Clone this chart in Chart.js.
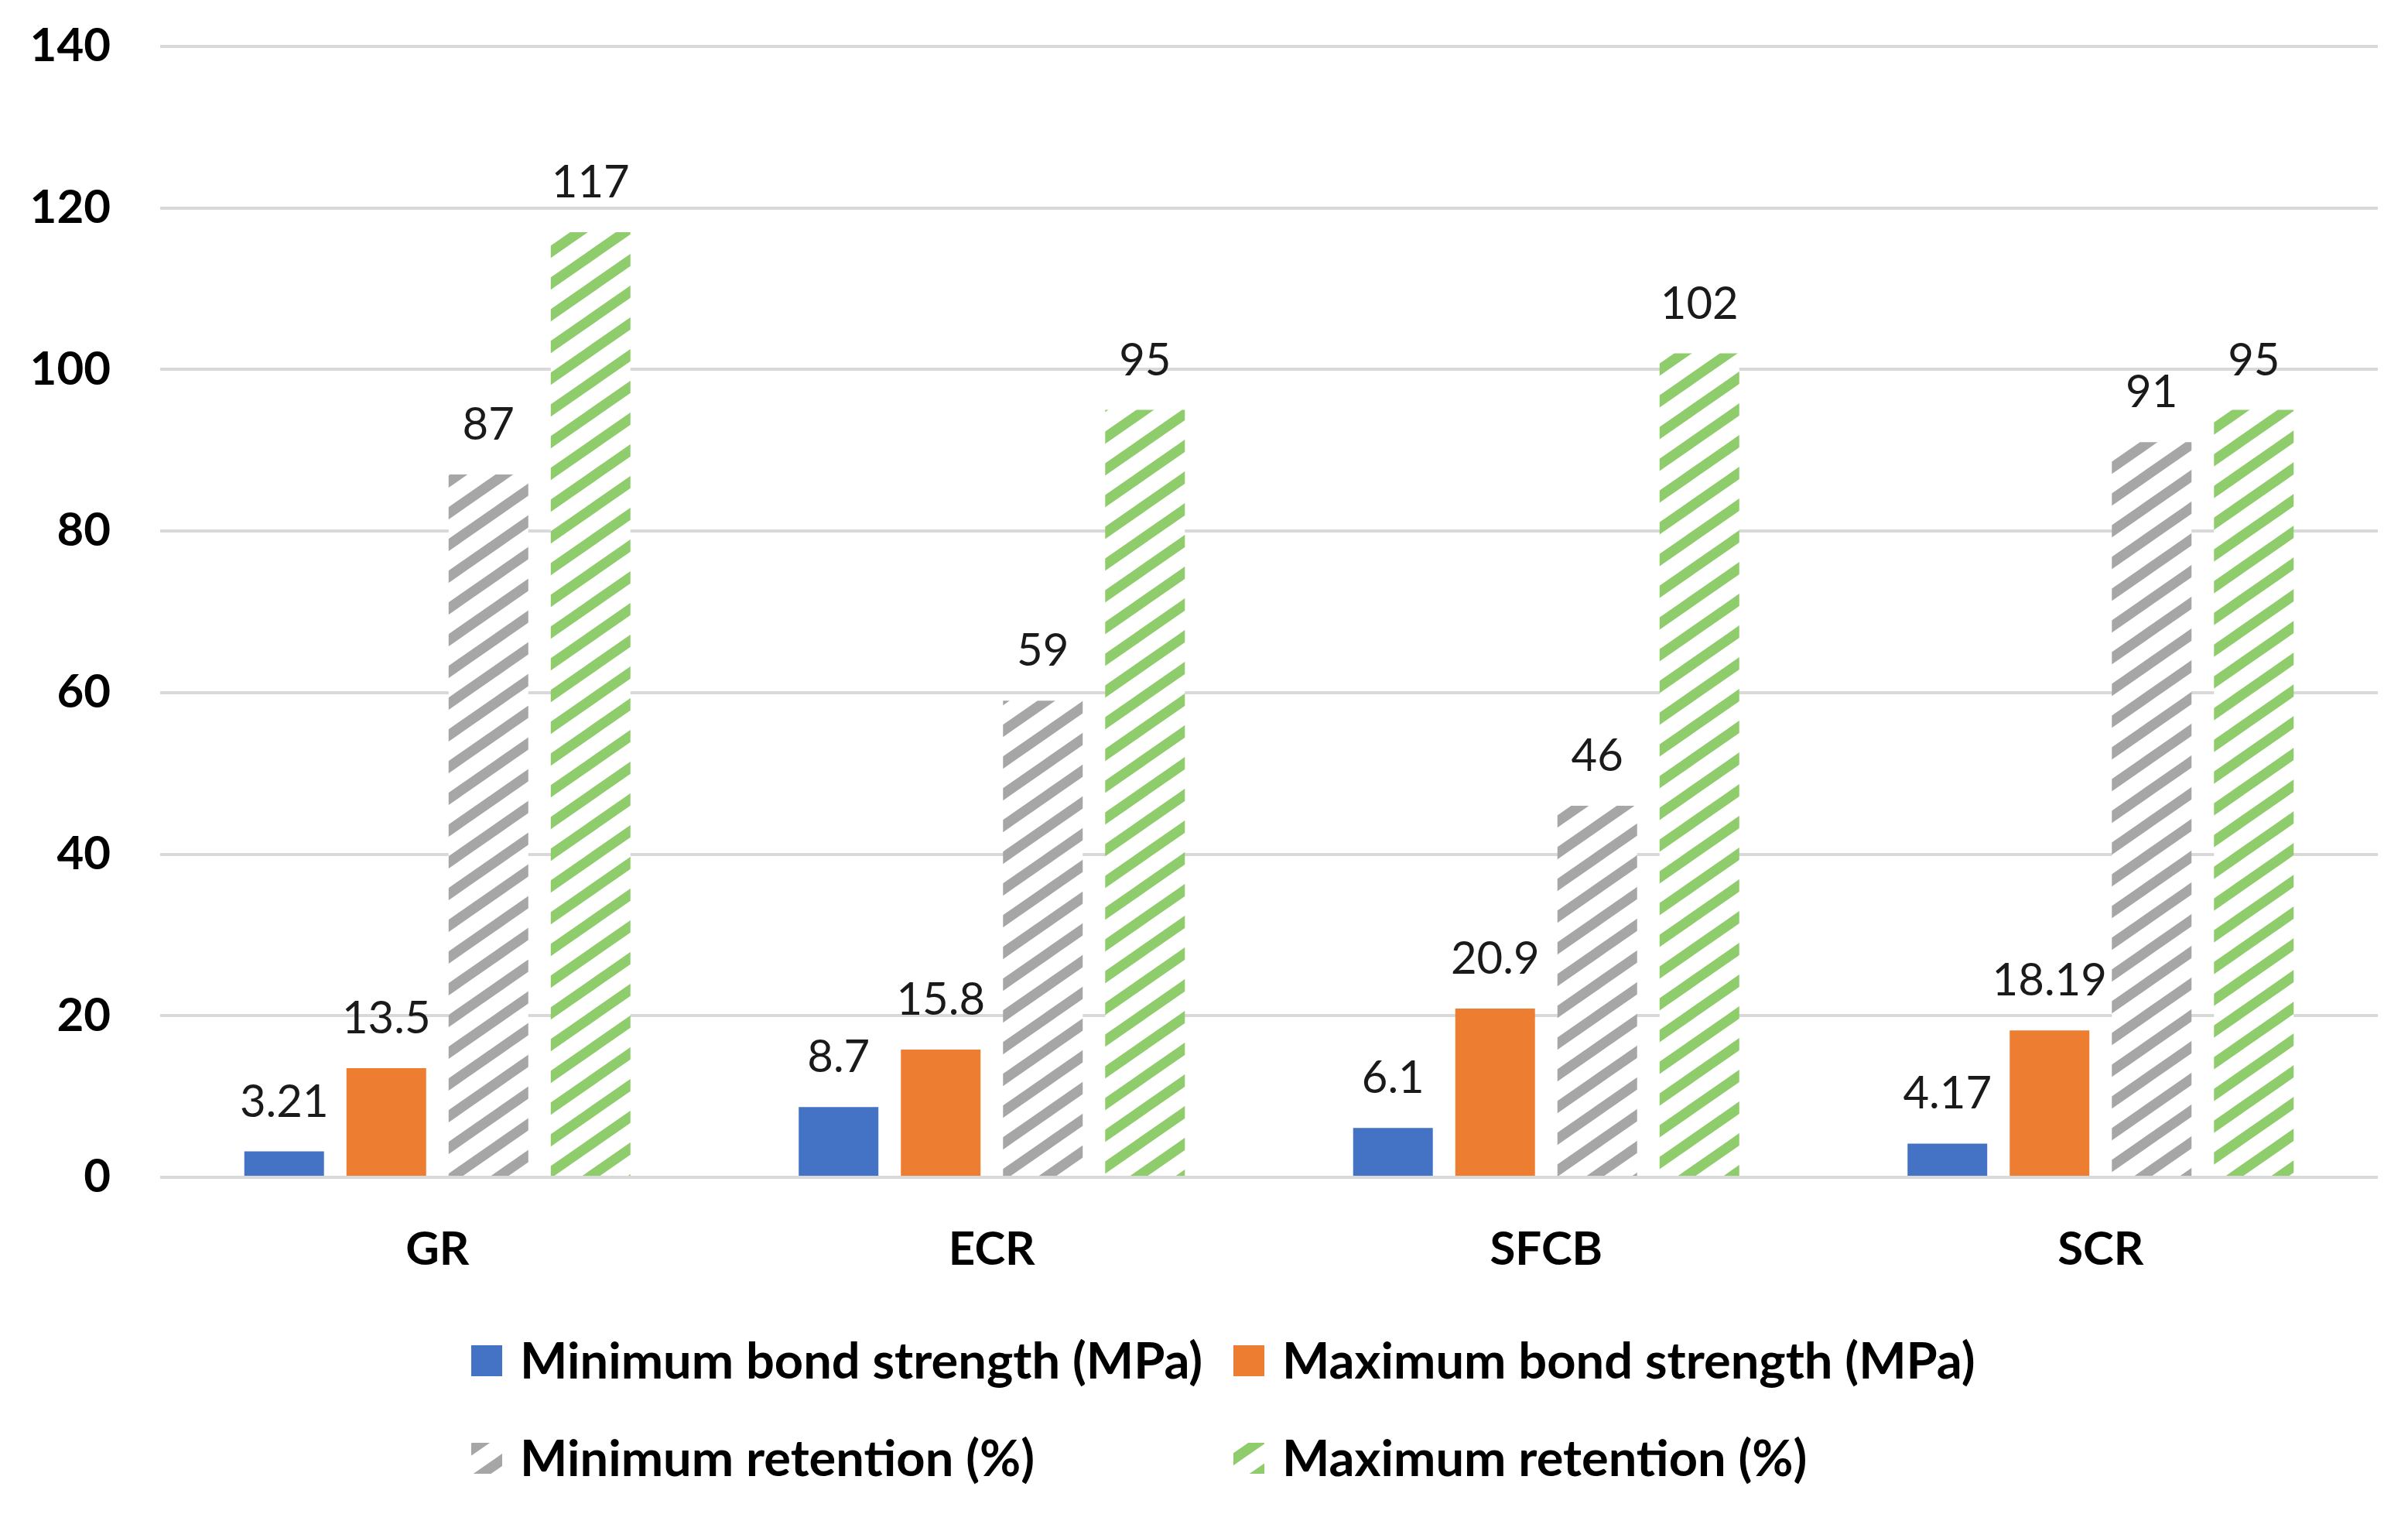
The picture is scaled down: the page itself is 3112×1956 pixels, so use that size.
<!DOCTYPE html>
<html><head><meta charset="utf-8">
<script src="https://cdn.jsdelivr.net/npm/chart.js@4.4.1/dist/chart.umd.min.js"></script>
<style>html,body{margin:0;padding:0;background:#fff}canvas{display:block}</style>
</head><body>
<canvas id="c" width="3112" height="1956" style="width:3112px;height:1956px"></canvas>
<script>
const categories = ['GR', 'ECR', 'SFCB', 'SCR'];
const seriesNames = ['Minimum bond strength (MPa)', 'Maximum bond strength (MPa)', 'Minimum retention (%)', 'Maximum retention (%)'];
const minBond = [3.21, 8.7, 6.1, 4.17];
const maxBond = [13.5, 15.8, 20.9, 18.19];
const minRet = [87, 59, 46, 91];
const maxRet = [117, 95, 102, 95];
const yTicks = [0, 20, 40, 60, 80, 100, 120, 140];

const FONT = 'Lato';

function makeHatch(color) {
  const W = 59, H = 41;
  const t = document.createElement('canvas');
  t.width = W; t.height = H;
  const g = t.getContext('2d');
  g.fillStyle = '#ffffff';
  g.fillRect(0, 0, W, H);
  g.strokeStyle = color;
  g.lineWidth = 13;
  g.lineCap = 'butt';
  for (let k = -1; k <= 1; k++) {
    g.beginPath();
    g.moveTo(-20, H * (1 + k) + (H / W) * 20);
    g.lineTo(W + 20, H * (1 + k) - (H / W) * (W + 20));
    g.stroke();
  }
  return g.createPattern(t, 'repeat');
}

const ctx = document.getElementById('c').getContext('2d');
const colors = ['#4472C4', '#ED7D31', makeHatch('#A6A6A6'), makeHatch('#8FCD6C')];
const values = [minBond, maxBond, minRet, maxRet];

const valueLabels = {
  id: 'valueLabels',
  afterDatasetsDraw(chart) {
    const c = chart.ctx;
    c.save();
    c.font = '400 58px ' + FONT;
    c.fillStyle = '#1a1a1a';
    c.textAlign = 'center';
    c.textBaseline = 'alphabetic';
    chart.data.datasets.forEach((ds, i) => {
      const meta = chart.getDatasetMeta(i);
      meta.data.forEach((el, j) => {
        c.fillText(String(ds.data[j]), el.x, el.y - 45);
      });
    });
    c.restore();
  }
};

const gridLegend = {
  id: 'gridLegend',
  afterDraw(chart) {
    const c = chart.ctx;
    const colX = [609, 1594];
    const rowY = [1758, 1884];
    const box = 40;
    c.save();
    c.font = '700 65px ' + FONT;
    c.textAlign = 'left';
    c.textBaseline = 'middle';
    chart.data.datasets.forEach((ds, i) => {
      const x = colX[i % 2];
      const y = rowY[Math.floor(i / 2)];
      c.fillStyle = ds.backgroundColor;
      c.fillRect(x, y - box / 2, box, box);
      c.fillStyle = '#000';
      c.fillText(ds.label, x + 63, y + 2);
    });
    c.restore();
  }
};

new Chart(ctx, {
  type: 'bar',
  data: {
    labels: categories,
    datasets: seriesNames.map((n, i) => ({
      label: n,
      data: values[i],
      backgroundColor: colors[i],
      borderWidth: 0,
      categoryPercentage: 0.737,
      barPercentage: 0.78
    }))
  },
  options: {
    responsive: false,
    devicePixelRatio: 1,
    animation: false,
    layout: { padding: { top: 60, right: 39, bottom: 0, left: 0 } },
    plugins: { legend: { display: false }, tooltip: { enabled: false } },
    scales: {
      x: {
        grid: { display: false },
        border: { display: false },
        ticks: { font: { family: FONT, size: 60, weight: '700' }, color: '#000', padding: 50 },
        afterFit(s) { s.height = 435; }
      },
      y: {
        min: 0, max: 140,
        afterBuildTicks(s) { s.ticks = yTicks.map(v => ({ value: v })); },
        grid: { color: '#D9D9D9', lineWidth: 4, drawTicks: true, tickLength: 64, tickColor: 'rgba(0,0,0,0)' },
        border: { display: false },
        ticks: { font: { family: FONT, size: 60, weight: '700' }, color: '#000', padding: 0 },
        afterFit(s) { s.width = 207; }
      }
    }
  },
  plugins: [valueLabels, gridLegend]
});
</script>
</body></html>
